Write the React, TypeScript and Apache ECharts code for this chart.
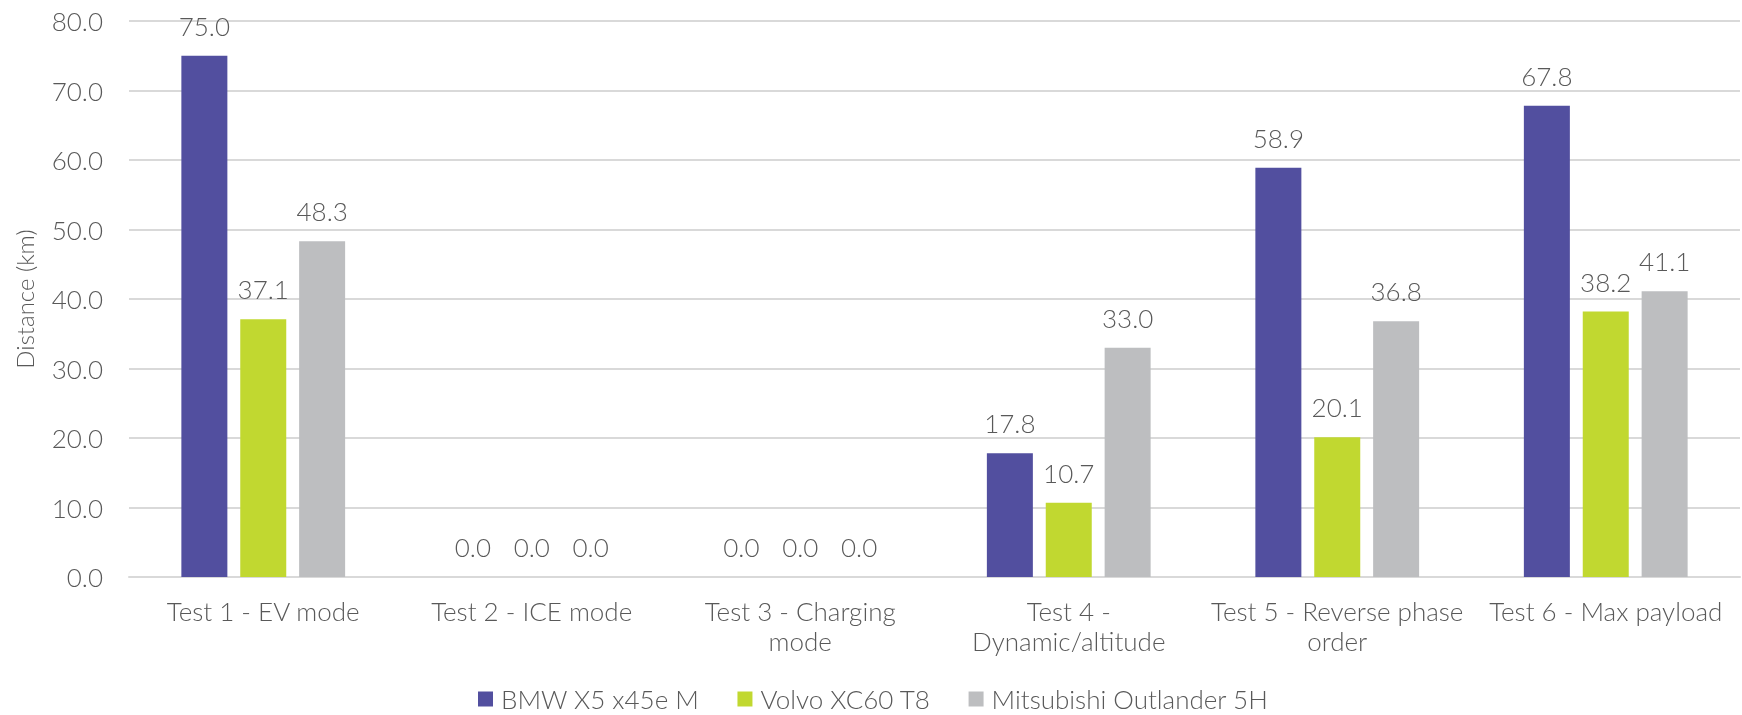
import React, { useEffect, useRef } from "react";
import * as echarts from "echarts";

const categories = [
  "Test 1 - EV mode",
  "Test 2 - ICE mode",
  "Test 3 - Charging mode",
  "Test 4 - Dynamic/altitude",
  "Test 5 - Reverse phase order",
  "Test 6 - Max payload",
];
const categoryLabels = [
  "Test 1 - EV mode",
  "Test 2 - ICE mode",
  "Test 3 - Charging\nmode",
  "Test 4 -\nDynamic/altitude",
  "Test 5 - Reverse phase\norder",
  "Test 6 - Max payload",
];
const bmw = [75.0, 0.0, 0.0, 17.8, 58.9, 67.8];
const volvo = [37.1, 0.0, 0.0, 10.7, 20.1, 38.2];
const mitsubishi = [48.3, 0.0, 0.0, 33.0, 36.8, 41.1];
const seriesNames = ["BMW X5 x45e M", "Volvo XC60 T8", "Mitsubishi Outlander 5H"];
const colors = ["#524F9F", "#C1D830", "#BDBEC0"];

const FONT = "Lato";
const TEXT = "#595959";
const FS = 26;

export default function App() {
  const ref = useRef<HTMLDivElement>(null);
  useEffect(() => {
    if (!ref.current) return;
    const chart = echarts.init(ref.current, undefined, { renderer: "svg" });
    const label = {
      show: true,
      position: "top" as const,
      distance: 17,
      color: TEXT,
      fontFamily: FONT,
      fontWeight: 300,
      fontSize: FS,
      formatter: (p: any) => Number(p.value).toFixed(1),
    };
    const data = [bmw, volvo, mitsubishi];
    chart.setOption({
      animation: false,
      textStyle: { fontFamily: FONT },
      grid: { left: 129, right: 2, top: 21, bottom: 138, containLabel: false },
      legend: {
        top: 685,
        left: 478,
        padding: 0,
        itemWidth: 15,
        itemHeight: 15,
        itemGap: 38,
        icon: "rect",
        textStyle: {
          color: TEXT,
          fontFamily: FONT,
          fontWeight: 300,
          fontSize: FS,
          lineHeight: 28,
          padding: [0, 0, 0, 3],
        },
        data: seriesNames,
      },
      xAxis: {
        type: "category",
        data: categories,
        axisLine: { show: true, lineStyle: { color: "#D9D9D9", width: 2 } },
        axisTick: { show: false },
        axisLabel: {
          color: TEXT,
          fontFamily: FONT,
          fontWeight: 300,
          fontSize: FS,
          margin: 19,
          lineHeight: 30,
          interval: 0,
          formatter: (v: string) => categoryLabels[categories.indexOf(v)] ?? v,
        },
      },
      yAxis: {
        type: "value",
        min: 0,
        max: 80,
        interval: 10,
        name: "Distance (km)",
        nameLocation: "middle",
        nameGap: 93,
        nameTextStyle: { color: TEXT, fontFamily: FONT, fontWeight: 300, fontSize: 24 },
        axisLine: { show: false },
        axisTick: { show: false },
        splitLine: { lineStyle: { color: "#D9D9D9", width: 2 } },
        axisLabel: {
          color: TEXT,
          fontFamily: FONT,
          fontWeight: 300,
          fontSize: FS,
          margin: 26,
          formatter: (v: number) => v.toFixed(1),
        },
      },
      series: seriesNames.map((name, i) => ({
        name,
        type: "bar",
        data: data[i],
        barWidth: 46,
        barGap: "28%",
        itemStyle: { color: colors[i] },
        label,
      })),
    });
    return () => chart.dispose();
  }, []);
  return (
    <div
      ref={ref}
      style={{ position: "fixed", left: 0, top: 0, width: 1742, height: 715 }}
    />
  );
}
